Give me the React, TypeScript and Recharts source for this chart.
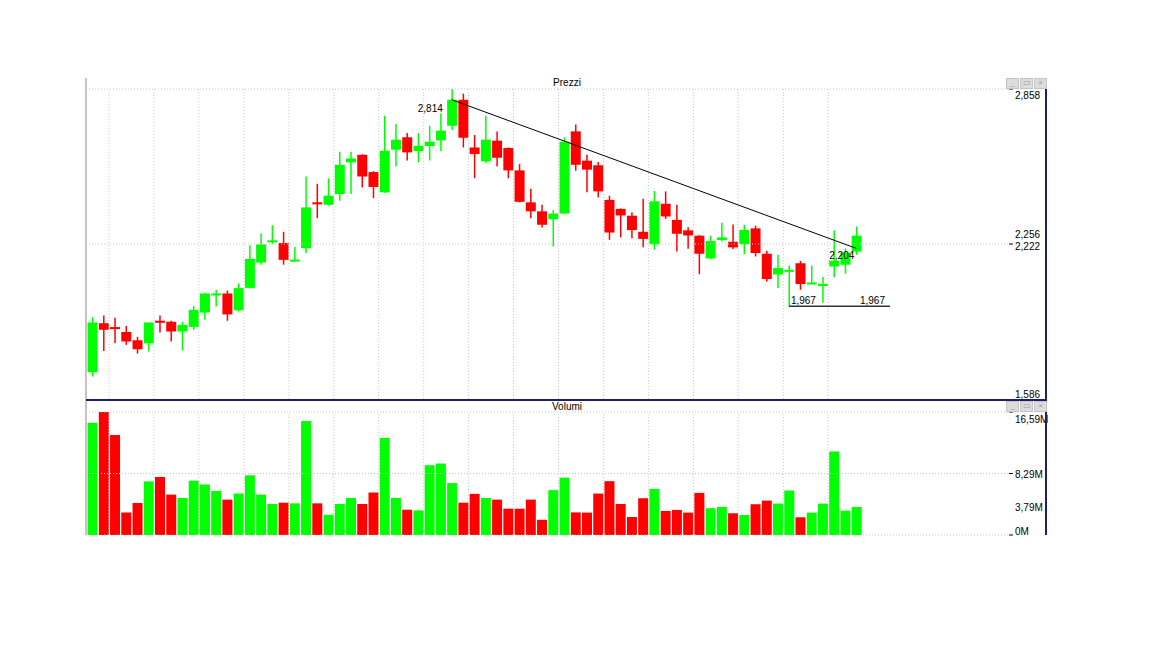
import { ComposedChart, Bar, XAxis, YAxis, ReferenceLine, ReferenceDot, Cell } from 'recharts';

const GREEN = '#00ff00';
const RED = '#ff0000';
const GRID = '#c8c8c8';
const NAVY = '#1b2068';
const FONT = '"Liberation Sans", Arial, sans-serif';

// prezzi giornalieri (apertura, massimo, minimo, chiusura)
const opens = [
  1.696, 1.897, 1.881, 1.861, 1.827, 1.814, 1.907, 1.903, 1.863, 1.882,
  1.941, 2.015, 2.019, 1.950, 2.042, 2.146, 2.232, 2.226, 2.154, 2.205,
  2.393, 2.383, 2.427, 2.557, 2.588, 2.517, 2.434, 2.609, 2.660, 2.603,
  2.624, 2.647, 2.707, 2.814, 2.618, 2.561, 2.646, 2.616, 2.524, 2.393,
  2.356, 2.323, 2.347, 2.684, 2.564, 2.545, 2.403, 2.366, 2.338, 2.272,
  2.221, 2.387, 2.321, 2.278, 2.256, 2.163, 2.238, 2.231, 2.221, 2.286,
  2.182, 2.097, 2.112, 2.143, 2.058, 2.052, 2.130, 2.137, 2.191,
];
const highs = [
  1.922, 1.929, 1.919, 1.886, 1.841, 1.900, 1.929, 1.907, 1.903, 1.968,
  2.022, 2.034, 2.031, 2.060, 2.217, 2.265, 2.299, 2.272, 2.210, 2.499,
  2.469, 2.491, 2.601, 2.601, 2.590, 2.521, 2.748, 2.714, 2.677, 2.677,
  2.707, 2.759, 2.858, 2.839, 2.669, 2.748, 2.684, 2.618, 2.550, 2.449,
  2.383, 2.361, 2.660, 2.712, 2.588, 2.558, 2.420, 2.368, 2.352, 2.408,
  2.439, 2.438, 2.383, 2.291, 2.258, 2.256, 2.309, 2.302, 2.301, 2.297,
  2.194, 2.178, 2.134, 2.153, 2.133, 2.087, 2.277, 2.204, 2.293,
];
const lows = [
  1.678, 1.783, 1.815, 1.808, 1.772, 1.781, 1.859, 1.822, 1.785, 1.870,
  1.911, 1.966, 1.907, 1.945, 2.039, 2.137, 2.221, 2.137, 2.150, 2.185,
  2.328, 2.380, 2.399, 2.427, 2.454, 2.410, 2.432, 2.540, 2.565, 2.557,
  2.565, 2.603, 2.690, 2.618, 2.492, 2.554, 2.540, 2.492, 2.393, 2.328,
  2.290, 2.212, 2.345, 2.523, 2.434, 2.413, 2.239, 2.249, 2.246, 2.209,
  2.199, 2.325, 2.191, 2.202, 2.098, 2.160, 2.232, 2.201, 2.180, 2.171,
  2.068, 2.041, 1.967, 2.034, 2.057, 1.981, 2.086, 2.100, 2.178,
];
const closes = [
  1.900, 1.870, 1.878, 1.822, 1.790, 1.900, 1.901, 1.863, 1.890, 1.952,
  2.019, 2.019, 1.933, 2.041, 2.161, 2.220, 2.237, 2.157, 2.158, 2.372,
  2.385, 2.420, 2.547, 2.573, 2.499, 2.456, 2.605, 2.650, 2.598, 2.625,
  2.642, 2.687, 2.814, 2.658, 2.591, 2.650, 2.576, 2.524, 2.395, 2.356,
  2.301, 2.347, 2.642, 2.547, 2.527, 2.438, 2.269, 2.339, 2.279, 2.243,
  2.397, 2.335, 2.264, 2.257, 2.182, 2.234, 2.249, 2.208, 2.280, 2.185,
  2.078, 2.123, 2.116, 2.058, 2.064, 2.058, 2.154, 2.187, 2.256,
];
// volumi in milioni
const volumes = [
  15.13, 16.59, 13.5, 3.05, 4.32, 7.23, 7.82, 5.45, 5.0, 7.32,
  6.82, 5.95, 4.77, 5.59, 8.05, 5.45, 4.18, 4.36, 4.27, 15.36,
  4.27, 2.73, 4.18, 5.0, 4.18, 5.73, 13.09, 5.0, 3.41, 3.32,
  9.41, 9.64, 7.0, 4.36, 5.55, 5.0, 4.77, 3.55, 3.55, 4.77,
  2.05, 6.05, 7.73, 3.05, 3.02, 5.59, 7.26, 4.19, 2.43, 4.96,
  6.22, 3.25, 3.38, 3.02, 5.68, 3.61, 3.79, 2.93, 2.71, 4.15,
  4.64, 4.24, 6.0, 2.39, 3.02, 4.24, 11.27, 3.29, 3.79,
];

const PRICE_MIN = 1.586;
const PRICE_MAX = 2.858;
const PRICE_MID = 2.222;
const LAST_PRICE = 2.256;
const priceTicks = [PRICE_MIN, PRICE_MID, LAST_PRICE, PRICE_MAX];
const VOL_MAX = 16.59;
const VOL_MID = 8.29;
const LAST_VOL = 3.79;
const volumeTicks = [0, LAST_VOL, VOL_MID, VOL_MAX];

// trendline e supporto
const trendStart = { i: 32, price: 2.814 };
const trendEnd = { i: 68, price: 2.204 };
const support = { from: 62, to: 71, price: 1.967 };

const X_DOMAIN: [number, number] = [-0.55, 81.5];
const gridX = Array.from({ length: 17 }, (_, k) => 1.5 + 4 * k);

const data = opens.map((o, i) => ({
  i,
  open: o,
  high: highs[i],
  low: lows[i],
  close: closes[i],
  vol: volumes[i],
}));

const fmt = (v: number, d: number) => v.toFixed(d).replace('.', ',');

const Candle = (props: any) => {
  const { x, y, width, height, payload } = props;
  if (!payload) return null;
  const { open, close, high, low } = payload;
  const top = Math.min(y, y + height);
  const h = Math.abs(height);
  const ppu = h / (high - low);
  const color = close >= open ? GREEN : RED;
  const bodyTop = top + (high - Math.max(open, close)) * ppu;
  const bodyH = Math.max(2, Math.abs(open - close) * ppu);
  const cx = x + width / 2;
  return (
    <g>
      <line x1={cx} x2={cx} y1={top} y2={top + h} stroke={color} strokeWidth={1.5} />
      <rect x={x} y={bodyTop} width={width} height={bodyH} fill={color} />
    </g>
  );
};

const PriceTick = (props: any) => {
  const { x, y, payload } = props;
  const v = payload.value;
  let dy = 4;
  if (v === PRICE_MAX) dy = 9.5;
  else if (v === PRICE_MIN) dy = -1;
  else if (v === LAST_PRICE) dy = 2.5;
  else if (v === PRICE_MID) dy = 5.5;
  const dash = v !== LAST_PRICE && v !== PRICE_MIN;
  return (
    <g>
      {dash && <line x1={x + 1} x2={x + 5} y1={y} y2={y} stroke="#000" />}
      <text x={x + 7} y={y + dy} fontSize={10} fontFamily={FONT} fill="#000">
        {fmt(v, 3)}
      </text>
    </g>
  );
};

const VolumeTick = (props: any) => {
  const { x, y, payload } = props;
  const v = payload.value;
  const dy = v === VOL_MAX ? 10.5 : v === 0 ? 0 : 4.5;
  const dash = v !== LAST_VOL;
  return (
    <g>
      {dash && <line x1={x + 1} x2={x + 5} y1={y} y2={y} stroke="#000" />}
      <text x={x + 7} y={y + dy} fontSize={10} fontFamily={FONT} fill="#000">
        {v === 0 ? '0M' : `${fmt(v, 2)}M`}
      </text>
    </g>
  );
};

const Note = (props: any) => {
  const { viewBox, note, offX, offY, anchor } = props;
  if (!viewBox) return null;
  return (
    <text x={viewBox.x + offX} y={viewBox.y + offY} textAnchor={anchor} fontSize={10} fontFamily={FONT} fill="#000">
      {note}
    </text>
  );
};

const WinButtons = ({ top }: { top: number }) => (
  <div style={{ position: 'absolute', left: 1006, top, display: 'flex', gap: 1 }}>
    {['_', '▭', '×'].map((g) => (
      <div
        key={g}
        style={{
          width: 11,
          height: 9,
          background: '#dcdcdc',
          border: '1px solid #c4c4c4',
          color: '#9a9a9a',
          fontSize: 8,
          lineHeight: '8px',
          textAlign: 'center',
          fontFamily: FONT,
        }}
      >
        {g}
      </div>
    ))}
  </div>
);

const title = (text: string, top: number) => (
  <div
    style={{
      position: 'absolute',
      left: 86,
      width: 962,
      top,
      textAlign: 'center',
      fontSize: 10,
      fontFamily: FONT,
      color: '#000',
    }}
  >
    {text}
  </div>
);

export default function App() {
  return (
    <div style={{ position: 'relative', width: 1152, height: 648, background: '#fff', overflow: 'hidden' }}>
      <style>{'body{margin:0}'}</style>

      {/* pannello prezzi */}
      <div style={{ position: 'absolute', left: 0, top: 0 }}>
        <ComposedChart width={1152} height={648} data={data} margin={{ top: 89, right: 104, bottom: 249, left: 86 }}>
          <XAxis dataKey="i" type="number" domain={X_DOMAIN} allowDataOverflow hide />
          <YAxis
            orientation="right"
            width={40}
            domain={[PRICE_MIN, PRICE_MAX]}
            ticks={priceTicks}
            allowDataOverflow
            axisLine={false}
            tickLine={false}
            tickSize={0}
            tickMargin={0}
            tick={<PriceTick />}
            interval={0}
          />
          <ReferenceLine y={PRICE_MAX} stroke={GRID} strokeDasharray="1 2" />
          <ReferenceLine y={PRICE_MID} stroke={GRID} strokeDasharray="1 2" />
          {gridX.map((gx) => (
            <ReferenceLine key={gx} x={gx} stroke={GRID} strokeDasharray="1 2" />
          ))}
          <Bar
            dataKey={(d: any) => [d.low, d.high]}
            barSize={10}
            shape={(p: any) => <Candle {...p} />}
            isAnimationActive={false}
          />
          <ReferenceLine
            segment={[
              { x: trendStart.i, y: trendStart.price },
              { x: trendEnd.i, y: trendEnd.price },
            ]}
            stroke="#000"
            strokeWidth={1}
          />
          <ReferenceLine
            segment={[
              { x: support.from, y: support.price },
              { x: support.to, y: support.price },
            ]}
            stroke="#333"
            strokeWidth={1.5}
          />
          <ReferenceDot
            x={trendStart.i}
            y={trendStart.price}
            r={0}
            fill="none"
            stroke="none"
            label={<Note note={fmt(trendStart.price, 3)} offX={-9} offY={12} anchor="end" />}
          />
          <ReferenceDot
            x={trendEnd.i}
            y={trendEnd.price}
            r={0}
            fill="none"
            stroke="none"
            label={<Note note={fmt(trendEnd.price, 3)} offX={-2} offY={11} anchor="end" />}
          />
          <ReferenceDot
            x={support.from}
            y={support.price}
            r={0}
            fill="none"
            stroke="none"
            label={<Note note={fmt(support.price, 3)} offX={2} offY={-2} anchor="start" />}
          />
          <ReferenceDot
            x={support.to}
            y={support.price}
            r={0}
            fill="none"
            stroke="none"
            label={<Note note={fmt(support.price, 3)} offX={-5} offY={-2} anchor="end" />}
          />
        </ComposedChart>
      </div>

      {/* pannello volumi */}
      <div style={{ position: 'absolute', left: 0, top: 0 }}>
        <ComposedChart width={1152} height={648} data={data} margin={{ top: 412, right: 104, bottom: 113, left: 86 }}>
          <XAxis dataKey="i" type="number" domain={X_DOMAIN} allowDataOverflow hide />
          <YAxis
            orientation="right"
            width={40}
            domain={[0, VOL_MAX]}
            ticks={volumeTicks}
            allowDataOverflow
            axisLine={false}
            tickLine={false}
            tickSize={0}
            tickMargin={0}
            tick={<VolumeTick />}
            interval={0}
          />
          <ReferenceLine y={VOL_MAX} stroke={GRID} strokeDasharray="1 2" />
          <ReferenceLine y={VOL_MID} stroke={GRID} strokeDasharray="1 2" />
          <ReferenceLine y={0} stroke={GRID} strokeDasharray="1 2" />
          {gridX.map((gx) => (
            <ReferenceLine key={gx} x={gx} stroke={GRID} strokeDasharray="1 2" />
          ))}
          <Bar dataKey="vol" barSize={10} isAnimationActive={false}>
            {data.map((d) => (
              <Cell key={d.i} fill={d.close >= d.open ? GREEN : RED} />
            ))}
          </Bar>
        </ComposedChart>
      </div>

      {/* cornice */}
      <div style={{ position: 'absolute', left: 85, top: 78, width: 2, height: 457, background: '#c4c4c4' }} />
      <div style={{ position: 'absolute', left: 1045, top: 78, width: 2, height: 457, background: NAVY }} />
      <div style={{ position: 'absolute', left: 86, top: 399, width: 960, height: 2, background: NAVY }} />
      {title('Prezzi', 77)}
      {title('Volumi', 401)}
      <WinButtons top={78} />
      <WinButtons top={401} />
    </div>
  );
}
